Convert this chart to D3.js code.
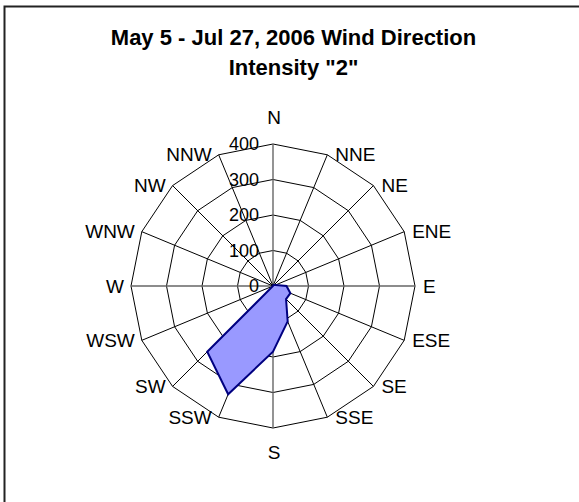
<!DOCTYPE html>
<meta charset="utf-8">
<style>
body { margin: 0; background: #fff; overflow: hidden; }
svg { display: block; }
svg text { font-family: "Liberation Sans", Arial, sans-serif; fill: #000; }
.grid path { fill: none; stroke: #000; stroke-width: 1; }
.spokes line { stroke: #000; stroke-width: 1; }
</style>
<svg width="579" height="502"></svg>
<script src="https://cdnjs.cloudflare.com/ajax/libs/d3/7.8.5/d3.min.js"></script>
<script>

var directions = ["N", "NNE", "NE", "ENE", "E", "ESE", "SE", "SSE",
                  "S", "SSW", "SW", "WSW", "W", "WNW", "NW", "NNW"];
var counts = [0, 2, 4, 8, 38, 53, 52, 108, 185, 330, 262, 0, 0, 0, 0, 0];
var ringValues = [100, 200, 300, 400];
var tickLabels = [0, 100, 200, 300, 400];
var titleLines = ["May 5 - Jul 27, 2006 Wind Direction", "Intensity \"2\""];

var svg = d3.select("svg"),
    cx = 273,
    cy = 286;

// chart frame (runs off the right and bottom edge)
svg.append("rect")
    .attr("x", 4.5).attr("y", 6.5)
    .attr("width", 640).attr("height", 600)
    .attr("fill", "none")
    .attr("stroke", "#222")
    .attr("stroke-width", 2);

svg.selectAll("text.title")
  .data(titleLines)
  .enter().append("text")
    .attr("class", "title")
    .attr("x", 293.5)
    .attr("y", function(d, i) { return 45 + i * 30; })
    .attr("text-anchor", "middle")
    .style("font-weight", "bold")
    .style("font-size", "22px")
    .text(function(d) { return d; });

var r = d3.scaleLinear().domain([0, 400]).range([0, 142]);
var angle = d3.scalePoint().domain(directions).range([0, 2 * Math.PI * 15 / 16]);

function px(dir, v) { return cx + r(v) * Math.sin(angle(dir)); }
function py(dir, v) { return cy - r(v) * Math.cos(angle(dir)); }

var g = svg.append("g").attr("transform", "translate(" + cx + "," + cy + ")");

var ring = d3.lineRadial()
    .angle(function(d) { return angle(d); })
    .curve(d3.curveLinearClosed);

g.append("g").attr("class", "grid")
  .selectAll("path")
  .data(ringValues)
  .enter().append("path")
    .attr("d", function(v) { return ring.radius(r(v))(directions); });

g.append("g").attr("class", "spokes")
  .selectAll("line")
  .data(directions)
  .enter().append("line")
    .attr("x1", 0).attr("y1", 0)
    .attr("x2", function(d) { return r(400) * Math.sin(angle(d)); })
    .attr("y2", function(d) { return -r(400) * Math.cos(angle(d)); })
    .style("stroke", function(d) { return d.length == 1 ? "#666" : "#000"; })
    .style("stroke-width", function(d) { return d.length == 1 ? 1.4 : 1; });

// data polygon
var area = d3.lineRadial()
    .angle(function(d, i) { return angle(directions[i]); })
    .radius(function(d) { return r(d); })
    .curve(d3.curveLinearClosed);

g.append("path")
    .attr("d", area(counts))
    .attr("fill", "#9999ff")
    .attr("stroke", "#000080")
    .attr("stroke-width", 2)
    .attr("stroke-linejoin", "miter");

// value tick labels along the north spoke
svg.selectAll("text.tick")
  .data(tickLabels)
  .enter().append("text")
    .attr("class", "tick")
    .attr("x", cx - 14)
    .attr("y", function(d) { return cy - r(d); })
    .attr("dy", "0.35em")
    .attr("text-anchor", "end")
    .style("font-size", "18px")
    .text(function(d) { return d; });

// direction labels
svg.selectAll("text.dir")
  .data(directions)
  .enter().append("text")
    .attr("class", "dir")
    .style("font-size", "19px")
    .attr("text-anchor", function(d) {
      if (d == "N" || d == "S") return "middle";
      return Math.sin(angle(d)) > 0 ? "start" : "end";
    })
    .attr("x", function(d) {
      var x = px(d, 400);
      if (d == "N" || d == "S") return x + 1;
      return Math.sin(angle(d)) > 0 ? x + 8 : x - 7;
    })
    .attr("y", function(d) {
      var y = py(d, 400);
      if (d == "N") return y - 27;
      if (d == "S") return y + 24;
      return y;
    })
    .attr("dy", "0.35em")
    .text(function(d) { return d; });

</script>
